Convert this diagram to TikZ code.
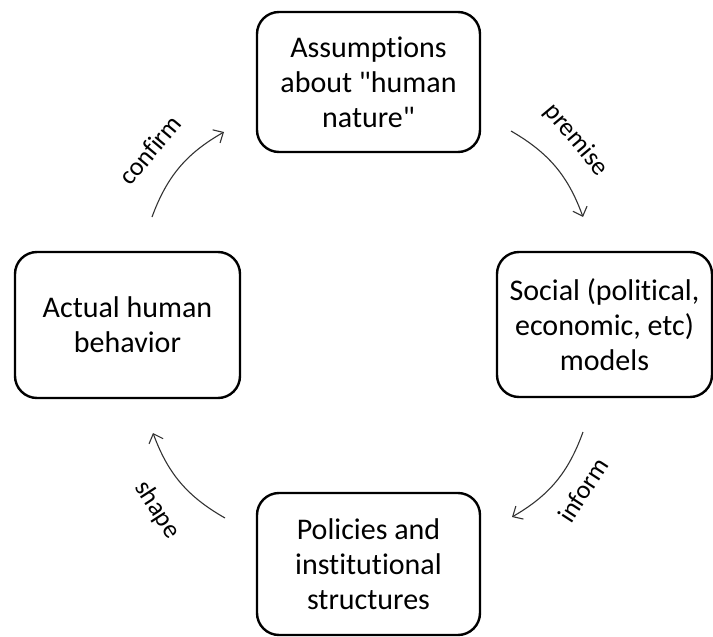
\documentclass[tikz,border=0pt]{standalone}
\usepackage{fontspec}
\newfontfamily\calib{Carlito}[Ligatures={NoCommon}]
\usetikzlibrary{arrows.meta}
\begin{document}
\begin{tikzpicture}[x=1pt,y=-1pt,
  box/.style={draw,line width=2.4pt,rounded corners=22pt,align=center,inner sep=0pt,
    font=\calib\fontsize{30}{35}\selectfont},
  flow/.style={-{Straight Barb[length=8pt,width=15pt]},line width=1.1pt,color=black!80},
  lab/.style={font=\calib\fontsize{26}{30}\selectfont}]
\useasboundingbox (0,0) rectangle (713,637);
\node[box,minimum width=223pt,minimum height=140pt] (top) at (368.5,82) {Assumptions\\about "human\\nature"};
\node[box,minimum width=215pt,minimum height=145pt] (right) at (604.5,324.5) {Social (political,\\economic, etc)\\models};
\node[box,minimum width=225pt,minimum height=146pt] (left) at (127.5,325) {Actual human\\behavior};
\node[box,minimum width=223pt,minimum height=142pt] (bottom) at (368.5,564) {Policies and\\institutional\\structures};
\coordinate (c1) at (152,217); \coordinate (c2) at (224,132);
\coordinate (p1) at (511,131); \coordinate (p2) at (583,217);
\coordinate (i1) at (583,432); \coordinate (i2) at (512,517);
\coordinate (s1) at (225,518); \coordinate (s2) at (153,433);
\draw[flow] (c1) to[bend left=20] (c2);
\draw[flow] (p1) to[bend left=20] (p2);
\draw[flow] (i1) to[bend left=20] (i2);
\draw[flow] (s1) to[bend left=20] (s2);
\node[lab,rotate=50] (lc) at (150,150) {confirm};
\node[lab,rotate=-50] (lp) at (576,140) {premise};
\node[lab,rotate=57] (li) at (583,490) {inform};
\node[lab,rotate=-57] (ls) at (157,510) {shape};
\end{tikzpicture}
\end{document}
